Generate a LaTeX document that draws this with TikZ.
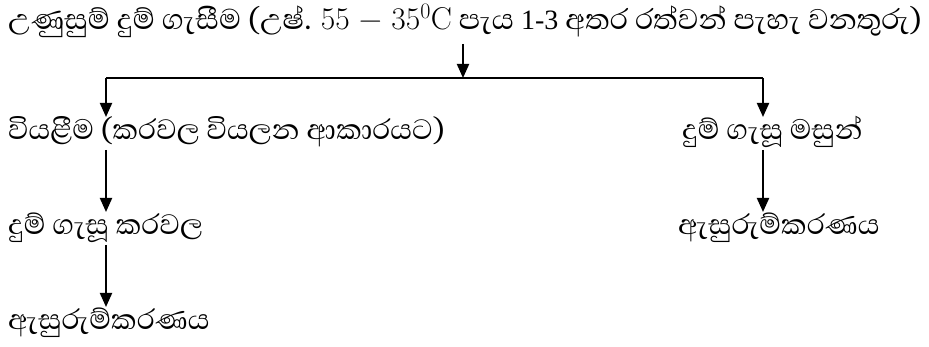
\RequirePackage{fix-cm}
\documentclass[tikz,border=0pt]{standalone}
\usepackage{fontspec}
\newfontfamily\sinhalafont[Script=Sinhala]{Abhaya Libre}
\newfontfamily\timesfont{Liberation Serif}
\usetikzlibrary{arrows.meta}
\begin{document}
\begin{tikzpicture}[x=1pt,y=-1pt,
  lbl/.style={anchor=base west, inner sep=0pt, font=\sinhalafont\fontsize{36}{40}\selectfont},
  ln/.style={line width=2pt},
  arr/.style={ln, -{Triangle[length=14pt,width=12pt]}}]
\useasboundingbox (0,0) rectangle (929,347);
\node[lbl, font=\sinhalafont\fontsize{36.5}{40}\selectfont] (top) at (8,30) {උණුසුම් දුම් ගැසීම (උෂ්. {\rmfamily\fontsize{31.5}{34}\selectfont 55 − 35\textsuperscript{0}C} පැය {\timesfont\fontsize{28}{30}\selectfont 1-3} අතර රත්වන් පැහැ වනතුරු)};
\node[lbl] (dry) at (8,140) {වියළීම (කරවල වියලන ආකාරයට)};
\node[lbl] (fish) at (682,140) {දුම් ගැසූ මසුන්};
\node[lbl] (karawala) at (8,235) {දුම් ගැසූ කරවල};
\node[lbl] (packR) at (678,235) {ඇසුරුම්කරණය};
\node[lbl] (packL) at (8,330) {ඇසුරුම්කරණය};
\coordinate (j) at (463,78);
\coordinate (jl) at (106,78);
\coordinate (jr) at (763,78);
\draw[ln] (jl) -- (jr);
\draw[arr] (j |- 0,44) -- (j);
\draw[arr] (jl) -- (jl |- 0,117);
\draw[arr] (jr) -- (jr |- 0,117);
\draw[arr] (jl |- 0,150) -- (jl |- 0,212);
\draw[arr] (jr |- 0,150) -- (jr |- 0,212);
\draw[arr] (jl |- 0,245) -- (jl |- 0,307);
\end{tikzpicture}
\end{document}
